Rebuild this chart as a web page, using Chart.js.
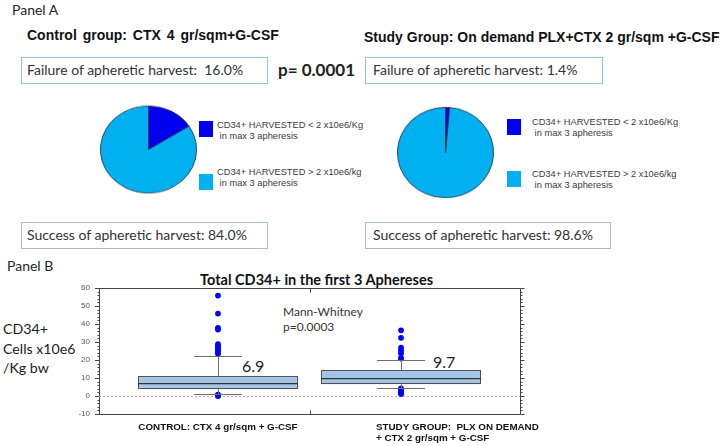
<!DOCTYPE html>
<html><head><meta charset="utf-8">
<script src="https://cdn.jsdelivr.net/npm/chart.js@4.4.0/dist/chart.umd.min.js"></script>
<style>
body{margin:0;background:#fff;width:722px;height:446px;position:relative;overflow:hidden;font-family:Lato,"Open Sans",sans-serif;color:#262626;}
.t{position:absolute;white-space:pre;}
.box{position:absolute;box-sizing:border-box;white-space:pre;font-size:14px;line-height:23px;color:#333;}
.b1{border:1.5px solid #8cc8de;}
.b2{border:1.5px solid #a6bfd0;}
.ar{font-family:"Liberation Sans",Arial,sans-serif;font-weight:bold;font-size:14px;color:#111;}
.lg{position:absolute;font-family:"Liberation Sans",Arial,sans-serif;font-size:9.3px;line-height:11px;color:#3a3a3a;white-space:pre;}
.sq{position:absolute;width:14px;height:16px;}
canvas{position:absolute;}
</style></head><body>

<div class="t" style="left:12px;top:1px;font-size:14px;line-height:18px;">Panel A</div>
<div class="t ar" style="left:27px;top:27px;line-height:16px;word-spacing:2px;">Control group: CTX 4 gr/sqm+G-CSF</div>
<div class="t ar" style="left:364px;top:29px;line-height:16px;">Study Group: On demand PLX+CTX 2 gr/sqm +G-CSF</div>
<div id="fail1" class="box b1" style="left:21px;top:57px;width:247px;height:27px;padding-left:5px;"></div>
<div class="t" style="left:278px;top:60px;font-size:17px;line-height:20px;font-weight:bold;color:#222;">p= 0.0001</div>
<div id="fail2" class="box b1" style="left:365px;top:57px;width:238px;height:27px;padding-left:7px;"></div>
<div id="succ1" class="box b2" style="left:21px;top:222px;width:247px;height:27px;padding-left:5px;"></div>
<div id="succ2" class="box b2" style="left:365px;top:222px;width:246px;height:27px;padding-left:7px;"></div>

<canvas id="pie1" width="97" height="97" style="left:100px;top:101px;transform:scaleY(0.905);"></canvas>
<canvas id="pie2" width="97" height="97" style="left:397px;top:104px;transform:scaleY(0.94);"></canvas>
<div id="leg"></div>

<div class="t" style="left:7px;top:257px;font-size:14px;line-height:18px;">Panel B</div>
<div class="t" style="left:200px;top:271px;font-size:14.5px;line-height:18px;font-weight:bold;color:#111;">Total CD34+ in the first 3 Aphereses</div>
<div class="t" style="left:3px;top:319px;font-size:14.2px;line-height:19.5px;color:#222;">CD34+
Cells x10e6
/Kg bw</div>
<div class="t" style="left:283px;top:304px;font-size:12px;line-height:15px;color:#333;">Mann-Whitney
p=0.0003</div>
<div id="med1" class="t" style="left:242px;top:356px;font-size:16px;line-height:20px;color:#222;"></div>
<div id="med2" class="t" style="left:433px;top:352px;font-size:16px;line-height:20px;color:#222;"></div>

<canvas id="box" width="490" height="166" style="left:60px;top:280px;"></canvas>

<script>
// ---------- data ----------
const pieCategories = [["CD34+ HARVESTED < 2 x10e6/Kg", " in max 3 apheresis"], ["CD34+ HARVESTED > 2 x10e6/kg", " in max 3 apheresis"]];
const pieColors = ["#0000EE", "#00B0F0"];
const controlPie = [16.0, 84.0];
const studyPie = [1.4, 98.6];

const groups = [["CONTROL: CTX 4 gr/sqm + G-CSF"], ["STUDY GROUP:  PLX ON DEMAND", "+ CTX 2 gr/sqm + G-CSF"]];
const boxQ1 = [3.9, 6.5];
const boxMedian = [6.9, 9.7];
const boxQ3 = [11.1, 14.4];
const whiskerLow = [1.1, 4.3];
const whiskerHigh = [22.5, 20.0];
const controlOutliers = [55.8, 45.8, 37.9, 36.9, 28.8, 27.5, 26.5, 25.5, 24.5, 23.5, 0.8, 0.3, 0.0];
const studyOutliers = [36.5, 32.3, 26.8, 25.3, 23.8, 21.2, 20.8, 4.2, 3.5, 2.8, 2.2, 1.6, 1.1];
const yTicks = [-10, 0, 10, 20, 30, 40, 50, 60];

// ---------- text from data ----------
document.getElementById('fail1').textContent = 'Failure of apheretic harvest:  ' + controlPie[0].toFixed(1) + '%';
document.getElementById('fail2').textContent = 'Failure of apheretic harvest: ' + studyPie[0].toFixed(1) + '%';
document.getElementById('succ1').textContent = 'Success of apheretic harvest: ' + controlPie[1].toFixed(1) + '%';
document.getElementById('succ2').textContent = 'Success of apheretic harvest: ' + studyPie[1].toFixed(1) + '%';
document.getElementById('med1').textContent = boxMedian[0].toFixed(1);
document.getElementById('med2').textContent = boxMedian[1].toFixed(1);

// legends
const legPos = [
  {x: 199, gap: 18, sq: [121, 174], tx: [120, 167]},
  {x: 507, gap: 25, sq: [119, 171], tx: [117, 169]}
];
let legHtml = '';
legPos.forEach(p => {
  pieCategories.forEach((lab, i) => {
    legHtml += '<div class="sq" style="left:' + p.x + 'px;top:' + p.sq[i] + 'px;background:' + pieColors[i] + '"></div>';
    legHtml += '<div class="lg" style="left:' + (p.x + p.gap) + 'px;top:' + p.tx[i] + 'px">' + lab.join('\n').replace(/</g, '&lt;') + '</div>';
  });
});
document.getElementById('leg').innerHTML = legHtml;

// ---------- pies ----------
function makePie(id, vals) {
  new Chart(document.getElementById(id), {
    type: 'pie',
    data: {labels: pieCategories.map(l => l.join(' ')), datasets: [{data: vals, backgroundColor: pieColors, borderColor: '#2a2a3a', borderWidth: 0.8}]},
    options: {responsive: false, animation: false, layout: {padding: 0},
      plugins: {legend: {display: false}, tooltip: {enabled: false}}}
  });
}
makePie('pie1', controlPie);
makePie('pie2', studyPie);

// ---------- box plot ----------
const CAP = 0.131;
const boxPlugin = {
  id: 'boxplot',
  beforeDatasetsDraw(chart) {
    const {ctx, chartArea: a, scales: {y}} = chart;
    ctx.save();
    ctx.strokeStyle = '#b5b5b5'; ctx.lineWidth = 1; ctx.setLineDash([2, 2]);
    const y0 = Math.round(y.getPixelForValue(0)) + 0.5;
    ctx.beginPath(); ctx.moveTo(a.left, y0); ctx.lineTo(a.right, y0); ctx.stroke();
    ctx.restore();
  },
  afterDatasetDraw(chart, args) {
    if (args.index !== 0) return;
    const {ctx, scales: {x, y}} = chart;
    ctx.save();
    groups.forEach((g, i) => {
      const cx = Math.round(x.getPixelForValue(i + 1)) + 0.5;
      const l = x.getPixelForValue(i + 1 - CAP), r = x.getPixelForValue(i + 1 + CAP);
      ctx.strokeStyle = '#6e6e6e'; ctx.lineWidth = 1;
      const yh = Math.round(y.getPixelForValue(whiskerHigh[i])) + 0.5;
      const yl = Math.round(y.getPixelForValue(whiskerLow[i])) + 0.5;
      ctx.beginPath();
      ctx.moveTo(cx, y.getPixelForValue(boxQ3[i])); ctx.lineTo(cx, yh);
      ctx.moveTo(l, yh); ctx.lineTo(r, yh);
      ctx.moveTo(cx, y.getPixelForValue(boxQ1[i])); ctx.lineTo(cx, yl);
      ctx.moveTo(l, yl); ctx.lineTo(r, yl);
      ctx.stroke();
      const meta = chart.getDatasetMeta(0).data[i];
      const ym = y.getPixelForValue(boxMedian[i]);
      ctx.strokeStyle = '#333'; ctx.lineWidth = 1.2;
      ctx.beginPath(); ctx.moveTo(meta.x - meta.width / 2, ym); ctx.lineTo(meta.x + meta.width / 2, ym); ctx.stroke();
    });
    ctx.restore();
  },
  afterDraw(chart) {
    const {ctx, chartArea: a, scales: {x, y}} = chart;
    ctx.save();
    ctx.strokeStyle = '#444'; ctx.lineWidth = 1;
    const L = Math.round(a.left) + 0.5, R = Math.round(a.right) + 0.5, T = Math.round(a.top) + 0.5, B = Math.round(a.bottom) + 0.5;
    ctx.beginPath();
    ctx.moveTo(L, T); ctx.lineTo(R, T); ctx.lineTo(R, B); ctx.lineTo(L, B);
    for (let v = -10; v <= 60; v += 2) {
      const py = Math.round(y.getPixelForValue(v)) + 0.5;
      const major = v % 10 === 0;
      ctx.moveTo(R, py); ctx.lineTo(R + (major ? 4 : 2), py);
      if (!major) { ctx.moveTo(L, py); ctx.lineTo(L - 2, py); }
    }
    const mid = Math.round(x.getPixelForValue(1.5)) + 0.5;
    ctx.moveTo(mid, T); ctx.lineTo(mid, T + 4);
    ctx.moveTo(mid, B); ctx.lineTo(mid, B - 4);
    ctx.stroke();
    ctx.fillStyle = '#111';
    ctx.font = 'bold 9.8px "Liberation Sans", Arial, sans-serif';
    ctx.textBaseline = 'middle';
    groups.forEach((lines, i) => {
      const cx = x.getPixelForValue(i + 1);
      lines.forEach((txt, j) => {
        if (i === 0) { ctx.textAlign = 'center'; ctx.fillText(txt, cx, a.bottom + 13 + j * 11.5); }
        else { ctx.textAlign = 'left'; ctx.fillText(txt, cx - 25, a.bottom + 13 + j * 11.5); }
      });
    });
    ctx.restore();
  }
};

new Chart(document.getElementById('box'), {
  data: {
    datasets: [
      {type: 'bar', data: groups.map((g, i) => ({x: i + 1, y: [boxQ1[i], boxQ3[i]]})),
        backgroundColor: '#a3c6e8', borderColor: '#505050', borderWidth: 1.2, borderSkipped: false,
        barPercentage: 0.875, categoryPercentage: 1},
      {type: 'scatter', data: controlOutliers.map(v => ({x: 1, y: v})),
        pointRadius: 2.9, pointBackgroundColor: '#0000FF', pointBorderWidth: 0},
      {type: 'scatter', data: studyOutliers.map(v => ({x: 2, y: v})),
        pointRadius: 2.9, pointBackgroundColor: '#0000FF', pointBorderWidth: 0}
    ]
  },
  options: {
    responsive: false, animation: false,
    layout: {padding: {top: 8, right: 30, left: 0, bottom: 0}},
    plugins: {legend: {display: false}, tooltip: {enabled: false}},
    scales: {
      x: {type: 'linear', min: 0.35, max: 2.65, offset: false,
        afterBuildTicks: s => { s.ticks = [{value: 1}, {value: 2}]; },
        ticks: {display: false}, grid: {display: false, offset: false}, border: {display: false},
        afterFit: s => { s.height = 32; }},
      y: {type: 'linear', min: -10, max: 60,
        afterBuildTicks: s => { s.ticks = yTicks.map(v => ({value: v})); },
        ticks: {font: {size: 8, family: '"Liberation Sans", Arial'}, color: '#555', padding: 5},
        grid: {display: true, drawOnChartArea: false, tickLength: 4, color: '#444'},
        border: {display: true, color: '#444'},
        afterFit: s => { s.width = 39; s.paddingTop = 0; s.paddingBottom = 0; }}
    }
  },
  plugins: [boxPlugin]
});
</script>
</body></html>
